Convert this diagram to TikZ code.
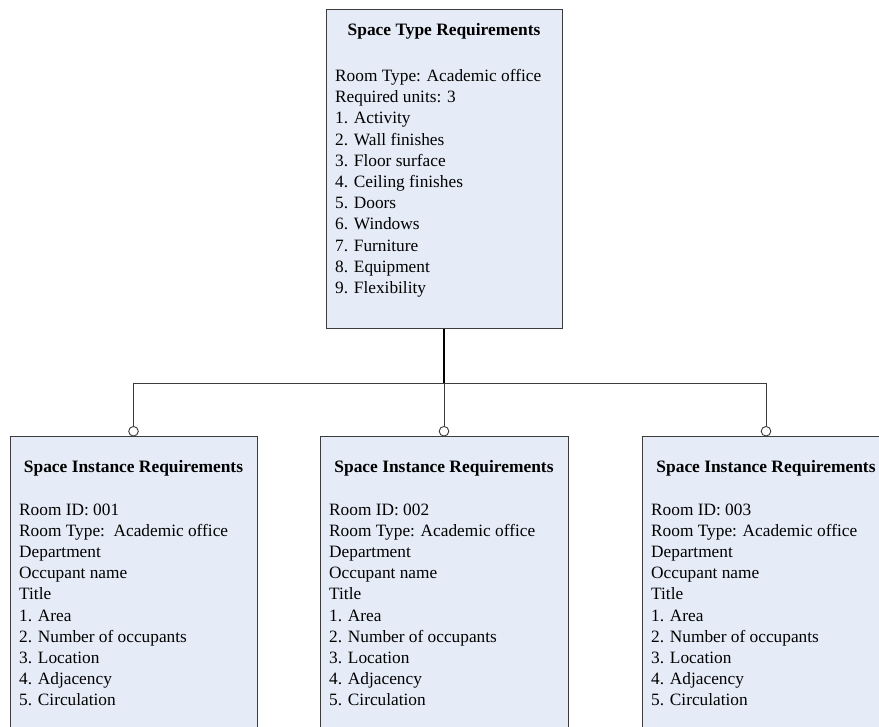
\documentclass[tikz,border=0pt]{standalone}
\usepackage{fontspec}
\setmainfont{Liberation Serif}
\usetikzlibrary{arrows.meta}
\definecolor{boxfill}{RGB}{230,236,247}
\definecolor{boxline}{RGB}{60,60,60}
\tikzset{
  reqbox/.style={draw=boxline, fill=boxfill, line width=1pt, rectangle, inner sep=0pt},
  titletext/.style={anchor=base, inner sep=0pt, font=\fontsize{17.4}{21.2}\selectfont\bfseries},
  bodytext/.style={anchor=base west, inner sep=0pt, align=left, font=\fontsize{17.3}{21.2}\selectfont},
  link/.style={draw=boxline, line width=0.9pt},
  linkc/.style={link, -{Circle[open, length=10.5pt, width=10.5pt, line width=0.9pt, fill=white]}}
}
\begin{document}
\begin{tikzpicture}[x=1pt, y=-1pt]
\useasboundingbox (0,0) rectangle (879,727);
\clip (0,0) rectangle (879,727);

% top box
\node[reqbox, minimum width=236pt, minimum height=319.5pt] (top) at (444,169.25) {};
\node[titletext] (toptitle) at (444,36) {Space Type Requirements};
% anchor = baseline of the last line
\node[bodytext] (toptext) at (335,293.5) {Room Type: Academic office\\Required units: 3\\1. Activity\\2. Wall finishes\\3. Floor surface\\4. Ceiling finishes\\5. Doors\\6. Windows\\7. Furniture\\8. Equipment\\9. Flexibility};

% bottom boxes
\node[reqbox, minimum width=247pt, minimum height=330pt] (b1) at (133.5,602) {};
\node[reqbox, minimum width=248pt, minimum height=330pt] (b2) at (444,602) {};
\node[reqbox, minimum width=248pt, minimum height=330pt] (b3) at (766,602) {};

\node[titletext] (t1) at (133.5,472) {Space Instance Requirements};
\node[titletext] (t2) at (444,472) {Space Instance Requirements};
\node[titletext] (t3) at (766,472) {Space Instance Requirements};

\node[bodytext] (x1) at (19,705.8) {Room ID: 001\\Room Type:\ \ Academic office\\Department\\Occupant name\\Title\\1. Area\\2. Number of occupants\\3. Location\\4. Adjacency\\5. Circulation};
\node[bodytext] (x2) at (329,705.8) {Room ID: 002\\Room Type: Academic office\\Department\\Occupant name\\Title\\1. Area\\2. Number of occupants\\3. Location\\4. Adjacency\\5. Circulation};
\node[bodytext] (x3) at (651,705.8) {Room ID: 003\\Room Type: Academic office\\Department\\Occupant name\\Title\\1. Area\\2. Number of occupants\\3. Location\\4. Adjacency\\5. Circulation};

% connectors
\coordinate (hub) at (444,383);
\draw[line width=1.8pt, black] (top.south) -- (hub);
\draw[linkc] (hub) -| (b1.north);
\draw[linkc] (hub) -- (b2.north);
\draw[linkc] (hub) -| (b3.north);
\end{tikzpicture}
\end{document}
